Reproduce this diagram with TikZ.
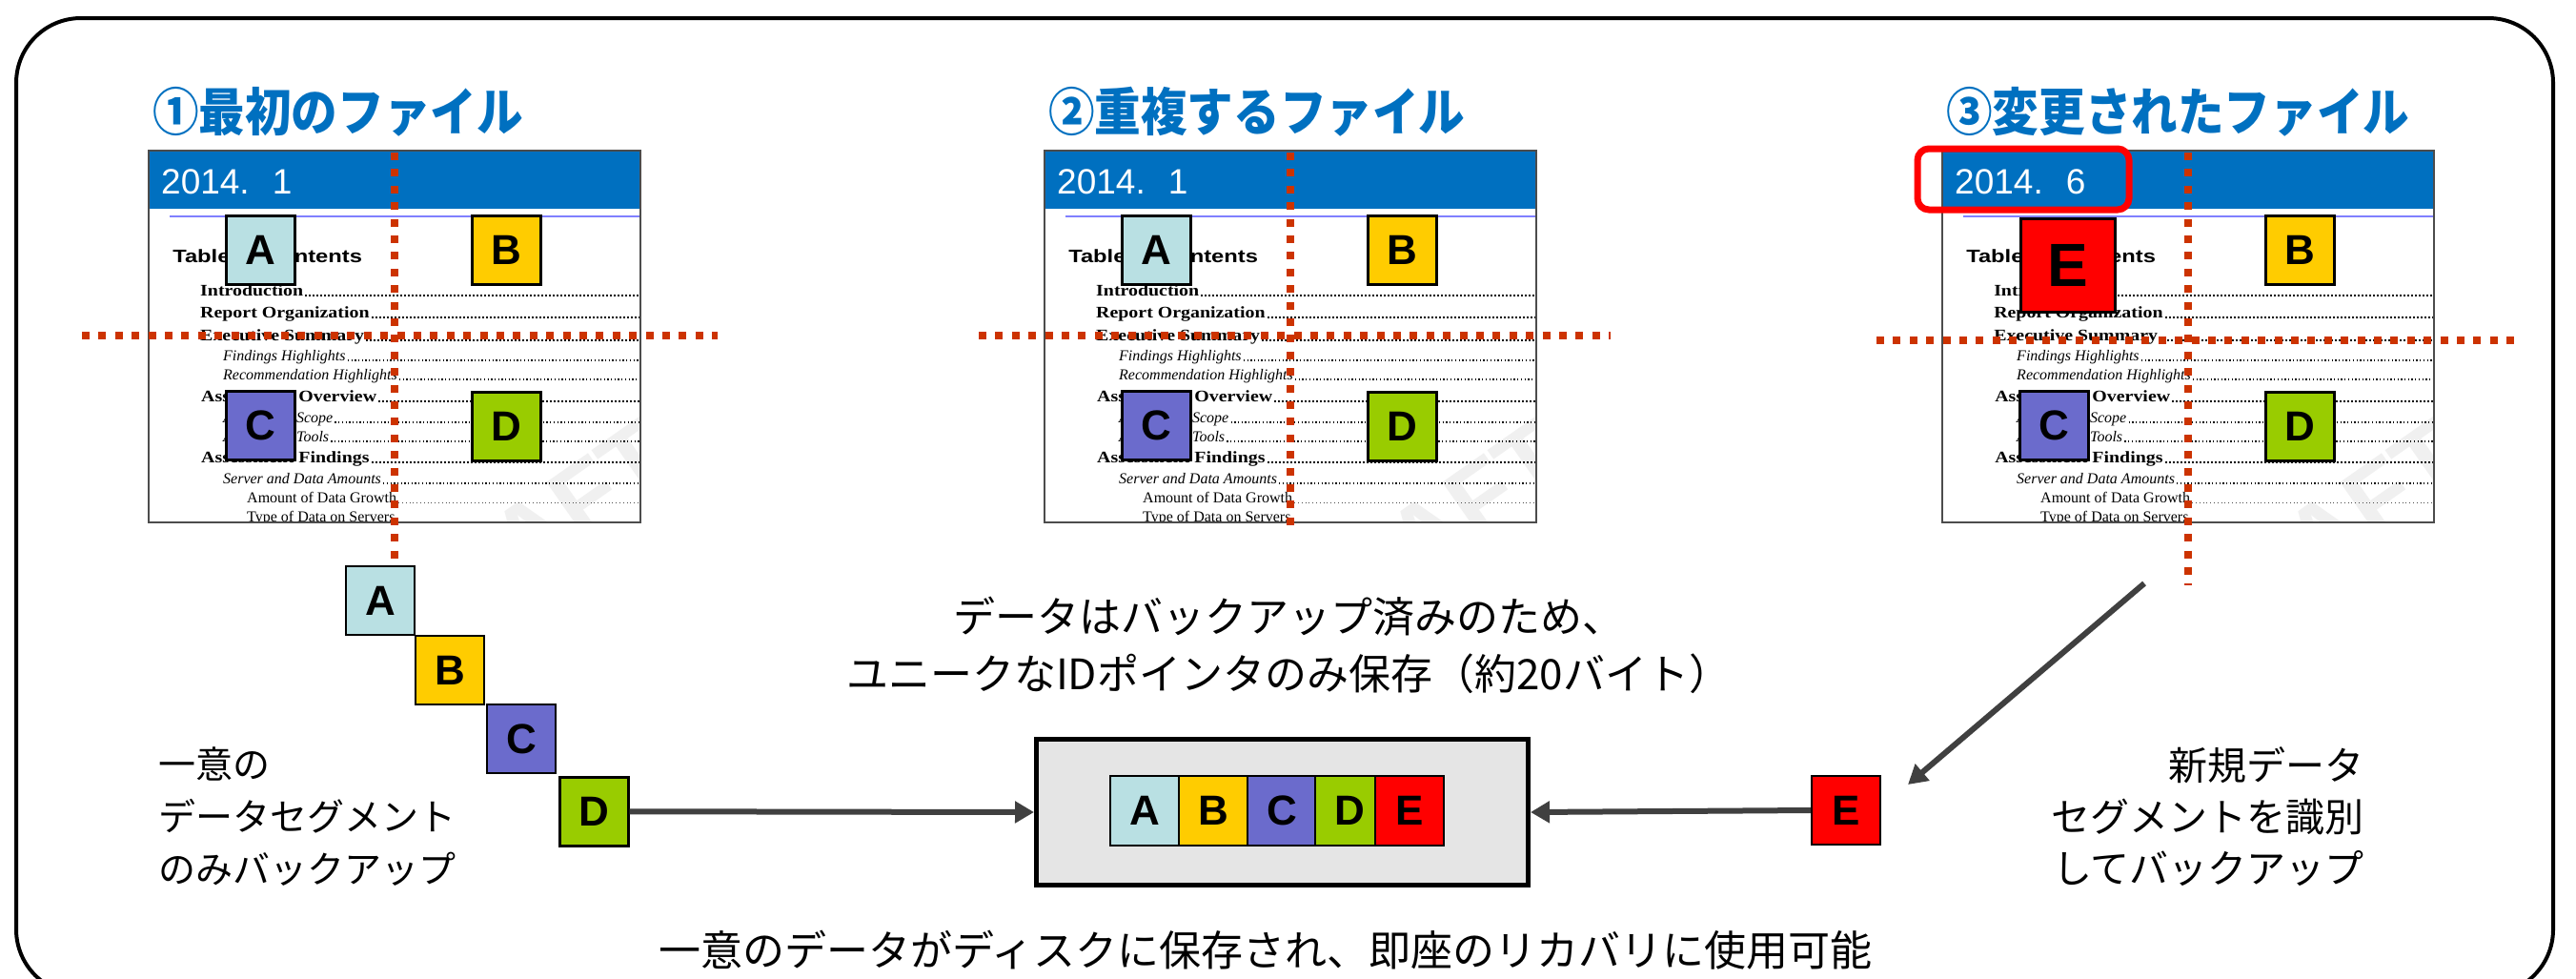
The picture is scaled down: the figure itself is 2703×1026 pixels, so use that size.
\documentclass[tikz,border=0pt]{standalone}
\usepackage{fontspec}
\setmainfont{Liberation Serif}
\newfontfamily\cjk{Noto Sans CJK JP}
\newfontfamily\arialf{Liberation Sans}
\usetikzlibrary{arrows.meta}
\definecolor{hdrblue}{RGB}{0,112,192}
\definecolor{dotred}{RGB}{204,51,0}
\definecolor{segA}{RGB}{185,224,227}
\definecolor{segB}{RGB}{255,204,0}
\definecolor{segC}{RGB}{107,107,204}
\definecolor{segD}{RGB}{153,204,0}
\definecolor{segE}{RGB}{255,0,0}
\definecolor{arrgray}{RGB}{64,64,64}
\definecolor{storegray}{RGB}{229,229,229}
\definecolor{tocblue}{RGB}{128,128,255}
\tikzset{
  seg/.style={draw=black, line width=2.5pt, minimum width=72pt, minimum height=72pt,
    inner sep=0pt, anchor=north west, font=\arialf\bfseries\fontsize{44}{44}\selectfont},
  chainseg/.style={seg, line width=2pt},
  redline/.style={draw=dotred, line width=8pt, dash pattern=on 8pt off 9.4pt},
  arr/.style={draw=arrgray, line width=6pt, -{Triangle[length=20pt,width=22pt]}},
  lbold/.style={line width=1.8pt, dash pattern=on 1.8pt off 2.2pt},
  lital/.style={line width=1.3pt, dash pattern=on 1.3pt off 2.4pt},
  lreg/.style={line width=0.8pt, dash pattern=on 0.8pt off 3pt, black!70},
  title/.style={anchor=west, inner sep=0pt, text=hdrblue, xscale=0.9, font=\cjk\bfseries\fontsize{54}{54}\selectfont},
  wm/.style={rotate=35, inner sep=0pt, text=black!6, font=\arialf\bfseries\fontsize{105}{105}\selectfont}
}
% #1 name, #2 x, #3 y, #4 font, #5 leader style, #6 text, #7 xscale
\newcommand\tocentry[7]{%
  \node[anchor=base west, inner sep=0pt, xscale=#7, font=#4] (#1) at (#2,#3) {#6};
  \draw[#5] ([xshift=2pt]#1.base east) -- (672,#3);}
\newcommand\docpage[3]{%
\begin{scope}[xshift=#1pt]
  \fill[white] (156,158) rectangle (672,548);
  \begin{scope}
    \clip (156,158) rectangle (672,548);
    \node[wm] (wm#2) at (548,568) {DRAFT};
    \fill[hdrblue] (156,158) rectangle (672,219);
    \draw[tocblue, line width=1.2pt] (178,227) -- (672,227);
    \node[anchor=base west, inner sep=0pt, text=white, font=\arialf\fontsize{37}{37}\selectfont] (date#2) at (169,203) {#3};
    \node[anchor=base west, inner sep=0pt, xscale=1.25, font=\arialf\bfseries\fontsize{19}{19}\selectfont] (toc#2) at (181,275) {Table of Contents};
    \tocentry{#2a}{210}{310}{\fontsize{17}{17}\selectfont\bfseries}{lbold}{Introduction}{1.17}
    \tocentry{#2b}{210}{333}{\fontsize{17}{17}\selectfont\bfseries}{lbold}{Report Organization}{1.17}
    \tocentry{#2c}{210}{357}{\fontsize{17}{17}\selectfont\bfseries}{lbold}{Executive Summary}{1.17}
    \tocentry{#2d}{234}{378}{\fontsize{16}{16}\selectfont\itshape}{lital}{Findings Highlights}{1}
    \tocentry{#2e}{234}{398}{\fontsize{16}{16}\selectfont\itshape}{lital}{Recommendation Highlights}{1}
    \tocentry{#2f}{211}{421}{\fontsize{17}{17}\selectfont\bfseries}{lbold}{Assessment Overview}{1.17}
    \tocentry{#2g}{234}{443}{\fontsize{16}{16}\selectfont\itshape}{lital}{Assessment Scope}{1}
    \tocentry{#2h}{234}{463}{\fontsize{16}{16}\selectfont\itshape}{lital}{Assessment Tools}{1}
    \tocentry{#2i}{211}{485}{\fontsize{17}{17}\selectfont\bfseries}{lbold}{Assessment Findings}{1.17}
    \tocentry{#2j}{234}{507}{\fontsize{16}{16}\selectfont\itshape}{lital}{Server and Data Amounts}{1}
    \tocentry{#2k}{259}{527}{\fontsize{16}{16}\selectfont}{lreg}{Amount of Data Growth}{1}
    \tocentry{#2l}{259}{547}{\fontsize{16}{16}\selectfont}{lreg}{Type of Data on Servers}{1}
  \end{scope}
  \draw[black!70, line width=2pt] (156,158) rectangle (672,548);
  \node[seg, fill=segB] (B#2) at (494,225) {B};
  \node[seg, fill=segC] (C#2) at (236,409) {C};
  \node[seg, fill=segD] (D#2) at (494,410) {D};
\end{scope}}
\begin{document}
\begin{tikzpicture}[x=1pt,y=-1pt]
\useasboundingbox (0,0) rectangle (2703,1026);
\fill[white] (0,0) rectangle (2703,1026);
% outer frame
\draw[line width=4pt, rounded corners=68pt] (17,19) rectangle (2679,1043);
% titles
\node[title] (t1) at (160,117) {①最初のファイル};
\node[title] (t2) at (1100,117) {②重複するファイル};
\node[title] (t3) at (2042,117) {③変更されたファイル};
% documents
\docpage{0}{p}{2014.\hspace{24pt}1}
\node[seg, fill=segA] (Ap) at (236,225) {A};
\docpage{940}{q}{2014.\hspace{24pt}1}
\node[seg, fill=segA] (Aq) at (1176,225) {A};
\docpage{1882}{r}{2014.\hspace{24pt}6}
\node[seg, fill=segE, minimum width=99pt, minimum height=98pt, font=\arialf\bfseries\fontsize{64}{64}\selectfont] (Er) at (2119,228) {E};
\draw[segE, line width=7pt, rounded corners=12pt] (2012,156) rectangle (2234,220);
% dotted red lines
\draw[redline] (414,160) -- (414,590);
\draw[redline] (86,352) -- (753,352);
\draw[redline] (1354,160) -- (1354,556);
\draw[redline] (1027,352) -- (1690,352);
\draw[redline] (2296,160) -- (2296,614);
\draw[redline] (1969,357) -- (2638,357);
% chain of unique segments
\node[chainseg, fill=segA] (cA) at (362,593) {A};
\node[chainseg, fill=segB] (cB) at (435,666) {B};
\node[chainseg, fill=segC] (cC) at (510,738) {C};
\node[seg, fill=segD] (cD) at (586,814) {D};
% storage
\node[draw=black, line width=5pt, fill=storegray, minimum width=516pt, minimum height=153pt, anchor=north west, inner sep=0pt] (store) at (1085,773) {};
\node[chainseg, fill=segA, minimum height=73pt] (sA) at (1164,813) {A};
\node[chainseg, fill=segB, minimum height=73pt] (sB) at (1236,813) {B};
\node[chainseg, fill=segC, minimum height=73pt] (sC) at (1308,813) {C};
\node[chainseg, fill=segD, minimum height=73pt] (sD) at (1379,813) {D};
\node[chainseg, fill=segE, minimum height=73pt] (sE) at (1442,813) {E};
% new segment
\node[chainseg, fill=segE] (eNew) at (1900,813) {E};
% arrows
\draw[arr] (cD.east) -- (store.west);
\draw[arr] (eNew.west) -- (store.east);
\coordinate (dS) at (2250,612);
\coordinate (dE) at (2002,823);
\draw[arr] (dS) -- (dE);
% texts
\node[anchor=west, align=left, inner sep=0pt, font=\cjk\fontsize{39}{55}\selectfont] (lefttext) at (166,857) {一意の\\データセグメント\\のみバックアップ};
\node[anchor=east, align=right, inner sep=0pt, font=\cjk\fontsize{41}{54}\selectfont] (righttext) at (2481,857) {新規データ\\セグメントを識別\\してバックアップ};
\node[align=center, inner sep=0pt, font=\cjk\fontsize{44}{60}\selectfont] (midtext) at (1352,677) {データはバックアップ済みのため、\\ユニークなIDポインタのみ保存（約20バイト）};
\node[inner sep=0pt, font=\cjk\fontsize{44}{44}\selectfont] (bottomtext) at (1328,997) {一意のデータがディスクに保存され、即座のリカバリに使用可能};
\end{tikzpicture}
\end{document}
